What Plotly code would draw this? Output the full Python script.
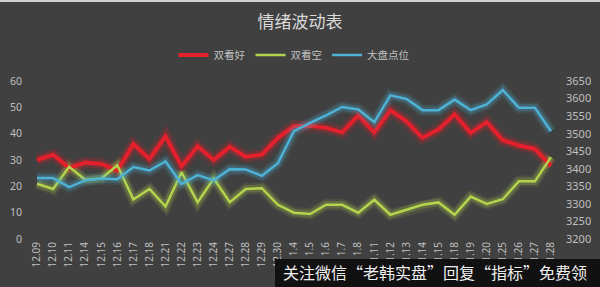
import plotly.graph_objects as go

dates = ["12.09", "12.10", "12.11", "12.14", "12.15", "12.16", "12.17", "12.18", "12.21", "12.22",
         "12.23", "12.24", "12.27", "12.28", "12.29", "12.30", "1.4", "1.5", "1.6", "1.7",
         "1.8", "1.11", "1.12", "1.13", "1.14", "1.15", "1.18", "1.19", "1.20", "1.25",
         "1.26", "1.27", "1.28"]

bullish = [30, 32, 27, 29, 28.5, 26, 36, 30.4, 39, 27.6,
           35.2, 30, 35, 31.2, 32, 38.4, 42.9, 43, 42.2, 40.5,
           46.9, 40.5, 48.9, 44.7, 38.4, 41.6, 47.3, 40.3, 44.4, 37.5,
           35.5, 34.2, 27.8]

bearish = [21, 19, 27.4, 22.5, 23, 28, 15, 19, 12.3, 25.3,
           13.9, 23, 14, 19, 19.3, 13, 10, 9.5, 13, 13,
           10, 14.9, 9.2, 11, 13, 13.9, 9.2, 16.1, 13.3, 15.1,
           21.9, 21.9, 31.1]

index_pts = [3374, 3374, 3348, 3367, 3372, 3370, 3405, 3395, 3421, 3357,
             3382, 3367, 3399, 3398, 3380, 3416, 3507, 3531, 3552, 3576,
             3569, 3533, 3609, 3599, 3567, 3567, 3597, 3567, 3583, 3624,
             3574, 3574, 3507]

x = list(range(len(dates)))

RED = "#e3202b"
GREEN = "#b4d44e"
BLUE = "#4db2d6"
BG = "#404040"
TXT = "#bfbfbf"

fig = go.Figure()

series = [
    ("双看好", bullish, RED, 4, "y"),
    ("双看空", bearish, GREEN, 2.5, "y"),
    ("大盘点位", index_pts, BLUE, 2.5, "y2"),
]

# glow layers
for name, vals, col, w, ax in series:
    for gw, op in [(9, 0.10), (5, 0.22)]:
        fig.add_trace(go.Scatter(x=x, y=vals, mode="lines", yaxis=ax,
                                 line=dict(color=col, width=gw + w), opacity=op,
                                 showlegend=False, hoverinfo="skip"))

for name, vals, col, w, ax in series:
    fig.add_trace(go.Scatter(x=x, y=vals, mode="lines", name=name, yaxis=ax,
                             line=dict(color=col, width=w)))

PH = 287 - 81 - 48  # plot height in px

fig.update_layout(
    width=600, height=287,
    paper_bgcolor=BG, plot_bgcolor=BG,
    margin=dict(l=29, r=41, t=81, b=48, autoexpand=False),
    font=dict(family="Noto Sans CJK SC", color=TXT, size=10),
    title=dict(text="情绪波动表", x=0.5, xanchor="center", yref="container",
               y=1 - 22 / 287, yanchor="middle",
               font=dict(size=17, color="#d9d9d9", family="Noto Sans CJK SC")),
    legend=dict(orientation="h", x=0.5, xanchor="center", y=1 + (81 - 55) / PH, yanchor="middle",
                font=dict(size=10.5, color=TXT), itemwidth=30, bgcolor="rgba(0,0,0,0)",
                traceorder="normal"),
    xaxis=dict(tickmode="array", tickvals=x, ticktext=dates, tickangle=-90,
               range=[-0.5, len(dates) - 0.5], showgrid=False, zeroline=False,
               showline=False, automargin=False,
               tickfont=dict(size=10, color=TXT, family="Noto Sans")),
    yaxis=dict(range=[0, 60], dtick=10, showgrid=False, zeroline=False, showline=False,
               automargin=False, ticklabelstandoff=6,
               tickfont=dict(size=10.5, color=TXT, family="Noto Sans")),
    yaxis2=dict(range=[3200, 3650], dtick=50, overlaying="y", side="right",
                showgrid=False, zeroline=False, showline=False, automargin=False,
                ticklabelstandoff=6,
                tickfont=dict(size=11, color=TXT, family="Noto Sans")),
    showlegend=True,
)

# thin light strip at top
fig.add_shape(type="rect", xref="paper", yref="paper", x0=-0.06, x1=1.08,
              y0=1 + 79 / PH, y1=1 + 90 / PH, fillcolor="#d0d0d0", line_width=0, layer="above")
# watermark banner
fig.add_shape(type="rect", xref="paper", yref="paper", x0=(275 - 29) / 530, x1=1.08,
              y0=-48 / PH - 0.02, y1=-(259 - 239) / PH, fillcolor="#111111", line_width=0,
              layer="above")
fig.add_annotation(text="关注微信“老韩实盘”回复“指标”免费领", xref="paper", yref="paper",
                   x=(281 - 29) / 530, xanchor="left", y=-(272 - 239) / PH, yanchor="middle",
                   showarrow=False, font=dict(size=16, color="#f0f0f0", family="Noto Sans CJK SC"))

fig.write_html("out.html", config={"displayModeBar": False},
               post_script="document.body.style.margin='0';document.body.style.overflow='hidden';")
